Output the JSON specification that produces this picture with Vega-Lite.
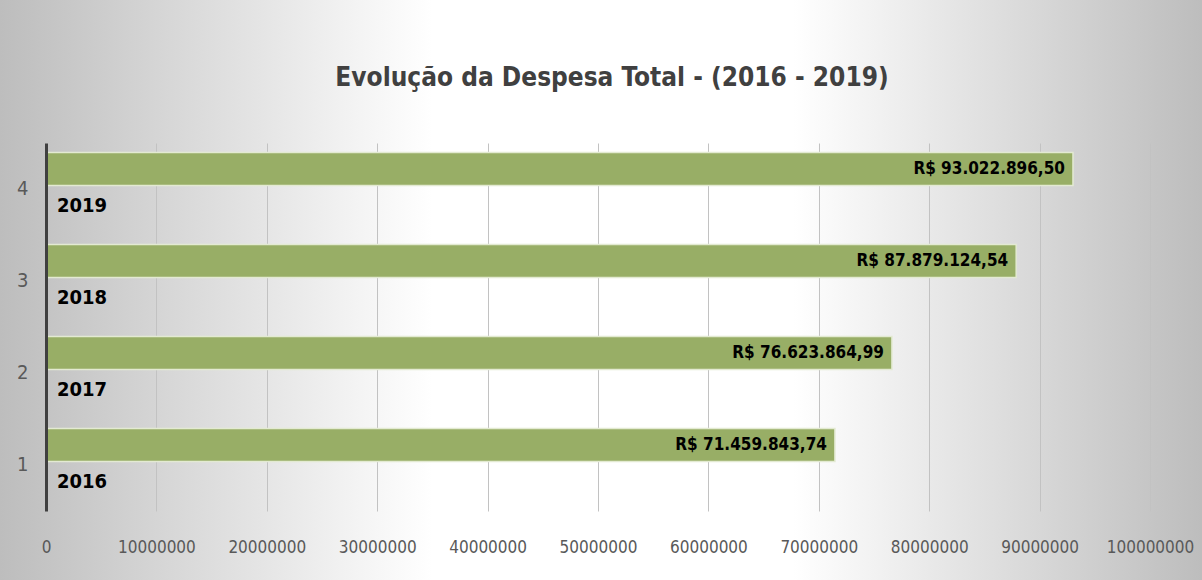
{
  "$schema": "https://vega.github.io/schema/vega-lite/v6.json",
  "width": 1202,
  "height": 580,
  "autosize": {"type": "none"},
  "padding": 0,
  "background": "#ffffff",
  "title": {
    "text": "Evolução da Despesa Total - (2016 - 2019)",
    "font": "DejaVu Sans Condensed, sans-serif",
    "fontSize": 26,
    "fontWeight": "bold",
    "color": "#404040",
    "anchor": "middle",
    "frame": "group",
    "orient": "top",
    "baseline": "alphabetic",
    "offset": -112,
    "dx": 11
  },
  "config": {
    "view": {
      "stroke": null,
      "fill": {
        "gradient": "linear",
        "x1": 0, "y1": 0, "x2": 1, "y2": 0,
        "stops": [
          {"offset": 0, "color": "#bdbdbd"},
          {"offset": 0.36, "color": "#ffffff"},
          {"offset": 0.66, "color": "#ffffff"},
          {"offset": 1, "color": "#bdbdbd"}
        ]
      }
    }
  },
  "data": {
    "values": [
      {"n": "1", "ano": "2016", "valor": 71459843.74, "rotulo": "R$ 71.459.843,74"},
      {"n": "2", "ano": "2017", "valor": 76623864.99, "rotulo": "R$ 76.623.864,99"},
      {"n": "3", "ano": "2018", "valor": 87879124.54, "rotulo": "R$ 87.879.124,54"},
      {"n": "4", "ano": "2019", "valor": 93022896.50, "rotulo": "R$ 93.022.896,50"}
    ]
  },
  "encoding": {
    "y": {
      "field": "n",
      "type": "ordinal",
      "sort": "descending",
      "scale": {"range": [143, 511], "paddingInner": 0, "paddingOuter": 0},
      "axis": {
        "title": null,
        "orient": "left",
        "offset": -46,
        "zindex": 2,
        "labelAngle": 0,
        "labelFont": "DejaVu Sans Condensed, sans-serif",
        "labelFontSize": 20,
        "labelColor": "#595959",
        "labelPadding": 18,
        "ticks": false,
        "domain": true,
        "domainColor": "#404040",
        "domainWidth": 3,
        "grid": false
      }
    }
  },
  "resolve": {"axis": {"x": "independent"}},
  "layer": [
    {
      "mark": {"type": "bar", "size": 33, "yOffset": -20, "fill": "#98ae66", "stroke": "#e3ead2", "strokeWidth": 1.5},
      "encoding": {
        "x": {
          "field": "valor",
          "type": "quantitative",
          "scale": {"domain": [0, 100000000], "range": [46, 1150], "nice": false},
          "axis": {
            "title": null,
            "orient": "top",
            "offset": 0,
            "values": [10000000, 20000000, 30000000, 40000000, 50000000, 60000000, 70000000, 80000000, 90000000, 100000000],
            "labels": false,
            "ticks": false,
            "domain": false,
            "grid": true,
            "gridColor": "#c2c2c2",
            "gridWidth": 1
          }
        }
      }
    },
    {
      "mark": {"type": "text", "align": "right", "baseline": "middle", "dx": -8, "yOffset": -20, "font": "DejaVu Sans Condensed, sans-serif", "fontSize": 17, "fontWeight": "bold", "color": "#000000"},
      "encoding": {
        "x": {
          "field": "valor",
          "type": "quantitative",
          "axis": {
            "title": null,
            "orient": "bottom",
            "offset": 0,
            "values": [0, 10000000, 20000000, 30000000, 40000000, 50000000, 60000000, 70000000, 80000000, 90000000, 100000000],
            "format": "d",
            "labelFont": "DejaVu Sans Condensed, sans-serif",
            "labelFontSize": 17,
            "labelColor": "#595959",
            "labelBaseline": "middle",
            "labelPadding": -33,
            "labelFlush": false,
            "labelOverlap": false,
            "ticks": false,
            "domain": false,
            "grid": false
          }
        },
        "text": {"field": "rotulo"}
      }
    },
    {
      "mark": {"type": "text", "align": "left", "baseline": "middle", "dx": 11, "yOffset": 17, "font": "DejaVu Sans Condensed, sans-serif", "fontSize": 20, "fontWeight": "bold", "color": "#000000"},
      "encoding": {
        "x": {"datum": 0},
        "text": {"field": "ano"}
      }
    }
  ]
}
